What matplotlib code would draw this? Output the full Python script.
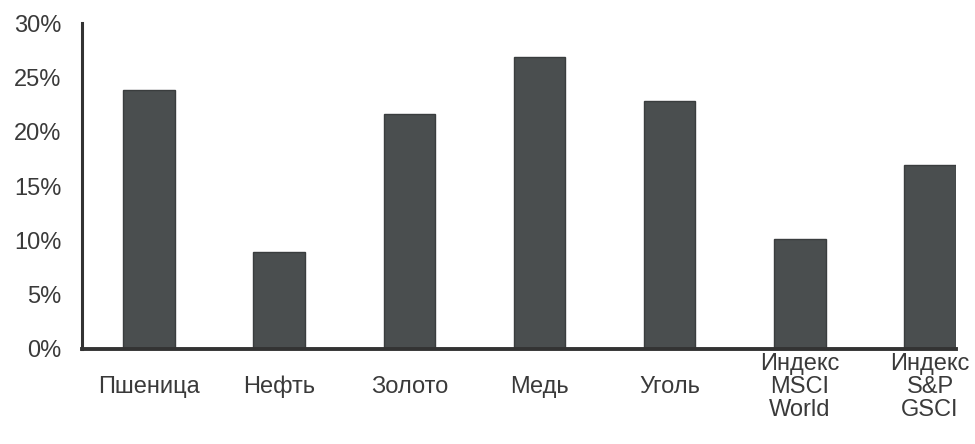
import matplotlib.pyplot as plt
from matplotlib.ticker import FuncFormatter

# Annual volatility by asset
categories = ['Пшеница', 'Нефть', 'Золото', 'Медь', 'Уголь',
              'Индекс\nMSCI\nWorld', 'Индекс\nS&P\nGSCI']
values = [23.8, 8.9, 21.6, 26.9, 22.8, 10.1, 16.9]
yticks = [0, 5, 10, 15, 20, 25, 30]

plt.rcParams['font.family'] = ['Liberation Sans', 'DejaVu Sans']

fig = plt.figure(figsize=(9.75, 4.44), dpi=100)
ax = fig.add_axes([0.0841, 0.214, 0.8965, 0.734])

x = range(len(categories))
ax.bar(x, values, width=0.395, color='#4a4e4f', edgecolor='#3a3d3e',
       linewidth=1, zorder=2)

ax.set_xlim(-0.515, 6.2)
ax.set_ylim(0, 30)
ax.set_yticks(yticks)
ax.yaxis.set_major_formatter(FuncFormatter(lambda v, _: f'{v:.0f}%'))
ax.set_xticks(list(x))
ax.set_xticklabels(categories, linespacing=1.04)

for s in ['top', 'right']:
    ax.spines[s].set_visible(False)
ax.spines['left'].set_linewidth(2.2)
ax.spines['bottom'].set_linewidth(2.8)
ax.spines['left'].set_color('#333333')
ax.spines['bottom'].set_color('#333333')
ax.spines['bottom'].set_zorder(3)

ax.tick_params(axis='both', length=0, labelsize=17, colors='#3a3a3a')
ax.tick_params(axis='y', pad=15)
ax.tick_params(axis='x', pad=27.5)
# category labels centred vertically on a common line
plt.setp(ax.get_xticklabels(), va='center')

fig.savefig('out.png', dpi=100)
